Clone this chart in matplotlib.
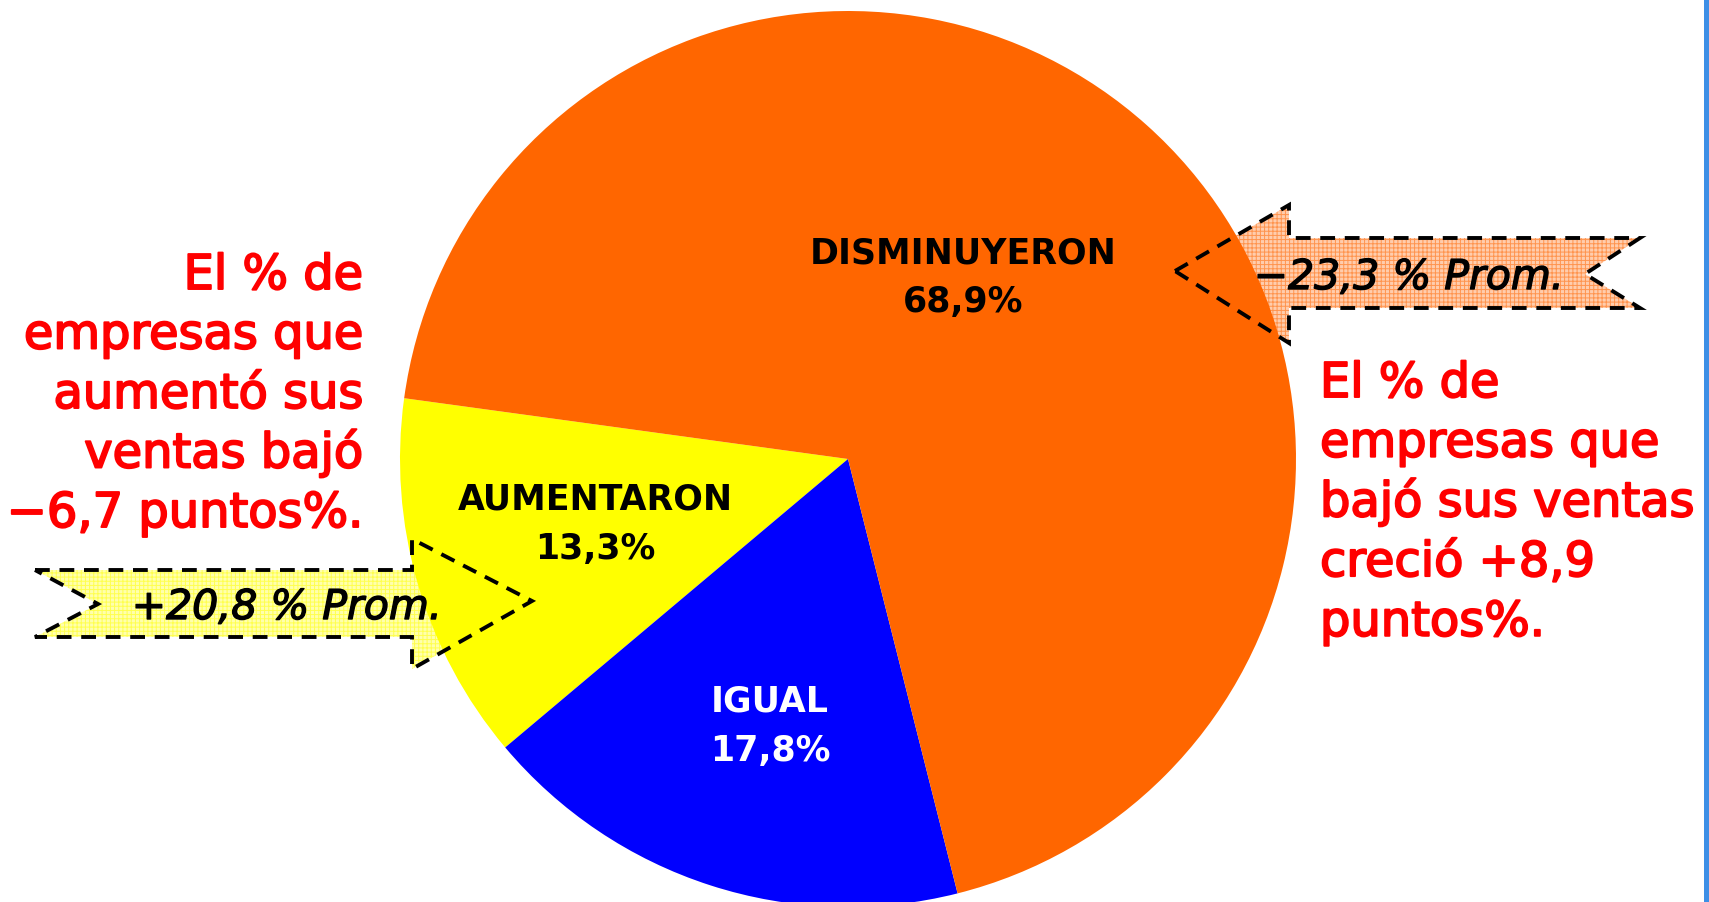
import matplotlib.pyplot as plt
import matplotlib.patheffects as pe
from matplotlib.patches import Polygon, Rectangle

ANCHO, ALTO = 1709, 903

# Datos del gráfico
categorias = ['AUMENTARON', 'IGUAL', 'DISMINUYERON']
porcentajes = [13.3, 17.8, 68.9]
etiquetas_pct = ['13,3%', '17,8%', '68,9%']
colores = ['#FFFF00', '#0000FF', '#FF6600']
colores_texto = ['black', 'white', 'black']

nota_izq = ['El % de', 'empresas que', 'aumentó sus', 'ventas bajó', '−6,7 puntos%.']
nota_der = ['El % de', 'empresas que', 'bajó sus ventas', 'creció +8,9', 'puntos%.']
promedio_aumentaron = '+20,8 % Prom.'
promedio_disminuyeron = '−23,3 % Prom.'


def py(y):
    # convierte y de pixel (desde arriba) a coordenadas del eje
    return ALTO - y


def flecha(ax, puntos, color, texto, pos_texto):
    pts = [(x, py(y)) for x, y in puntos]
    relleno = Polygon(pts, closed=True, facecolor=(*color, 0.32),
                      edgecolor=(*color, 0.55), linewidth=0, hatch='++++', zorder=2)
    borde = Polygon(pts, closed=True, facecolor='none', edgecolor='black',
                    linewidth=2.8, linestyle=(0, (3.8, 2.5)), zorder=3)
    ax.add_patch(relleno)
    ax.add_patch(borde)
    ax.text(pos_texto[0], py(pos_texto[1]), texto, fontsize=29.5, style='italic',
            ha='center', va='baseline', color='black', zorder=4,
            path_effects=[pe.withStroke(linewidth=1.0, foreground='black')])


def main(ruta_grafico):
    plt.rcParams['font.family'] = ['DejaVu Sans']
    plt.rcParams['hatch.linewidth'] = 0.7

    fig = plt.figure(figsize=(ANCHO / 100, ALTO / 100), dpi=100)
    ax = fig.add_axes([0, 0, 1, 1])

    ax.pie(porcentajes, colors=colores, startangle=172.2, counterclock=True,
           center=(848, py(460)), radius=448, frame=True,
           wedgeprops=dict(linewidth=0))
    ax.set_xlim(0, ANCHO)
    ax.set_ylim(0, ALTO)
    ax.set_aspect('equal')
    ax.axis('off')

    # etiquetas dentro de cada porción
    pos_etiquetas = [(595, 510), (770, 712), (963, 263)]
    for cat, pct, col, (x, y) in zip(categorias, etiquetas_pct, colores_texto, pos_etiquetas):
        ax.text(x, py(y), cat, fontsize=25, fontweight='bold', ha='center',
                va='baseline', color=col, zorder=5)
        ax.text(x, py(y + 49), pct, fontsize=25, fontweight='bold', ha='center',
                va='baseline', color=col, zorder=5)

    # flechas con el promedio
    flecha(ax, [(35, 571), (412, 571), (412, 540), (532, 602), (412, 670),
                (412, 638), (35, 638), (98, 605)],
           (1.0, 1.0, 0.0), promedio_aumentaron, (287, 620))
    flecha(ax, [(1175, 272), (1289, 206), (1289, 239), (1640, 239), (1585, 275),
                (1640, 309), (1289, 309), (1289, 344)],
           (1.0, 0.4, 0.0), promedio_disminuyeron, (1409, 290))

    # notas en rojo
    trazo_rojo = [pe.withStroke(linewidth=1.4, foreground='#FF0000')]
    for i, linea in enumerate(nota_izq):
        ax.text(363, py(290 + i * 59.5), linea, fontsize=34.5, ha='right',
                va='baseline', color='#FF0000', path_effects=trazo_rojo)
    for i, linea in enumerate(nota_der):
        ax.text(1320, py(398 + i * 59.7), linea, fontsize=34.5, ha='left',
                va='baseline', color='#FF0000', path_effects=trazo_rojo)

    # franja azul del borde derecho
    ax.add_patch(Rectangle((1704, 0), 6, ALTO, facecolor='#3D8FE6', edgecolor='none', zorder=6))

    plt.savefig(ruta_grafico)


if __name__ == "__main__":
    main('out.png')
